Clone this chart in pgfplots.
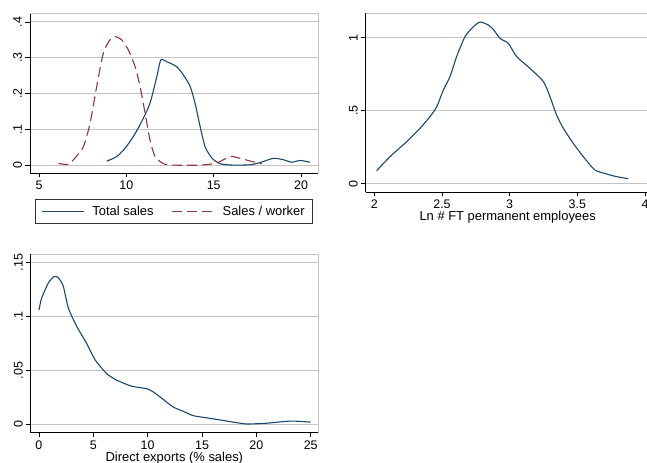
\documentclass[border=0pt]{standalone}
\usepackage{fontspec}
\setmainfont{Liberation Sans}
\usepackage{pgfplots}
\pgfplotsset{compat=1.18}
\definecolor{stnavy}{RGB}{26,71,111}
\definecolor{stmaroon}{RGB}{144,53,59}
\definecolor{gridgray}{RGB}{196,196,196}
\pgfplotsset{
  stata/.style={
    scale only axis,
    axis x line*=bottom, axis y line*=left,
    x axis line style={-, black, line width=0.8pt},
    y axis line style={-, black, line width=0.8pt},
    tick align=outside, major tick length=4.5bp,
    every tick/.style={black, line width=0.7pt},
    ymajorgrids, major grid style={gridgray, line width=1.1pt},
    scaled ticks=false,
    tick label style={font=\fontsize{12.5}{14}\selectfont},
    yticklabel style={rotate=90, anchor=south},
    label style={font=\fontsize{13}{15}\selectfont},
    xlabel style={at={(axis description cs:0.5,0)}, anchor=center, yshift=-25.5bp},
    clip=false,
    after end axis/.code={\draw[gridgray, line width=0.6pt] (rel axis cs:0,1) -- (rel axis cs:1,1) -- (rel axis cs:1,0);},
  },
}
\begin{document}
\begin{tikzpicture}
\useasboundingbox (0,0) rectangle (647bp,463bp);
% Panel 1
\begin{axis}[stata, at={(30bp,290bp)}, anchor=south west, width=288bp, height=160bp,
  xmin=4.48, xmax=20.97, ymin=-0.022, ymax=0.425,
  xtick={5,10,15,20}, xticklabels={5,10,15,20},
  ytick={0,0.1,0.2,0.3,0.4}, yticklabels={0,.1,.2,.3,.4},
  legend columns=2,
  legend image code/.code={\draw[#1] (0bp,0bp) -- (42bp,0bp);},
  legend style={at={(axis description cs:0.5,0)}, anchor=north, yshift=-26bp,
    draw=black!80, line width=0.6pt, font=\fontsize{13}{15}\selectfont,
    inner xsep=6bp, inner ysep=4.5bp,
    /tikz/every odd column/.append style={column sep=6bp},
    /tikz/every even column/.append style={column sep=16bp}},
  legend cell align=left]
\addplot[stnavy, line width=1.1pt, smooth, tension=0.4] coordinates {
(8.87,0.011)(9.45,0.024)(9.92,0.047)(10.40,0.080)(10.88,0.122)(11.35,0.173)(11.74,0.247)(11.97,0.294)(12.31,0.289)(12.88,0.275)(13.26,0.252)(13.65,0.220)(13.93,0.173)(14.22,0.108)(14.50,0.052)(14.89,0.020)(15.36,0.004)(16.13,0.000)(17.08,0.001)(17.65,0.007)(18.42,0.019)(18.99,0.015)(19.47,0.008)(19.94,0.013)(20.52,0.008)};
\addlegendentry{Total sales}
\addplot[stmaroon, line width=1.1pt, dash pattern=on 10bp off 5bp, smooth, tension=0.4] coordinates {
(6.11,0.005)(6.68,0.002)(7.06,0.020)(7.54,0.052)(7.92,0.117)(8.30,0.220)(8.68,0.313)(9.06,0.350)(9.35,0.359)(9.73,0.350)(10.11,0.322)(10.50,0.275)(10.78,0.220)(11.07,0.145)(11.35,0.071)(11.64,0.024)(12.12,0.004)(12.69,0.000)(14.22,0.000)(15.17,0.006)(15.94,0.024)(16.51,0.019)(17.27,0.009)(17.75,0.004)};
\addlegendentry{Sales / worker}
\end{axis}
% Panel 2
\begin{axis}[stata, at={(365.7bp,271bp)}, anchor=south west, width=284bp, height=179bp,
  xmin=1.936, xmax=4.035, ymin=-0.057, ymax=1.169,
  xtick={2,2.5,3,3.5,4}, xticklabels={2,2.5,3,3.5,4},
  ytick={0,0.5,1}, yticklabels={0,.5,1},
  xlabel={Ln \# FT permanent employees}]
\addplot[stnavy, line width=1.1pt, smooth, tension=0.4] coordinates {
(2.017,0.089)(2.116,0.185)(2.239,0.288)(2.337,0.379)(2.411,0.459)(2.461,0.527)(2.510,0.642)(2.559,0.733)(2.608,0.870)(2.670,1.007)(2.732,1.075)(2.781,1.107)(2.842,1.087)(2.879,1.057)(2.929,0.995)(2.990,0.961)(3.052,0.870)(3.150,0.790)(3.249,0.699)(3.298,0.596)(3.347,0.470)(3.397,0.379)(3.470,0.276)(3.544,0.185)(3.630,0.094)(3.717,0.066)(3.791,0.048)(3.877,0.034)};
\end{axis}
% Panel 3
\begin{axis}[stata, at={(30.7bp,30.3bp)}, anchor=south west, width=287.3bp, height=178.7bp,
  xmin=-0.76, xmax=25.67, ymin=-0.0078, ymax=0.158,
  xtick={0,5,10,15,20,25}, xticklabels={0,5,10,15,20,25},
  ytick={0,0.05,0.1,0.15}, yticklabels={0,.05,.1,.15},
  xlabel={Direct exports (\% sales)}]
\addplot[stnavy, line width=1.1pt, smooth, tension=0.4] coordinates {
(0,0.106)(0.245,0.117)(0.859,0.131)(1.380,0.137)(1.779,0.136)(2.239,0.128)(2.699,0.108)(3.466,0.091)(4.387,0.075)(5.153,0.060)(6.227,0.047)(7.147,0.041)(8.067,0.037)(8.681,0.035)(9.908,0.033)(10.52,0.030)(11.44,0.023)(12.36,0.016)(13.28,0.012)(14.20,0.008)(15.43,0.006)(16.66,0.004)(17.88,0.002)(19.11,0.0003)(20.95,0.001)(22.48,0.0025)(23.40,0.003)(25.0,0.002)};
\end{axis}
\end{tikzpicture}
\end{document}
